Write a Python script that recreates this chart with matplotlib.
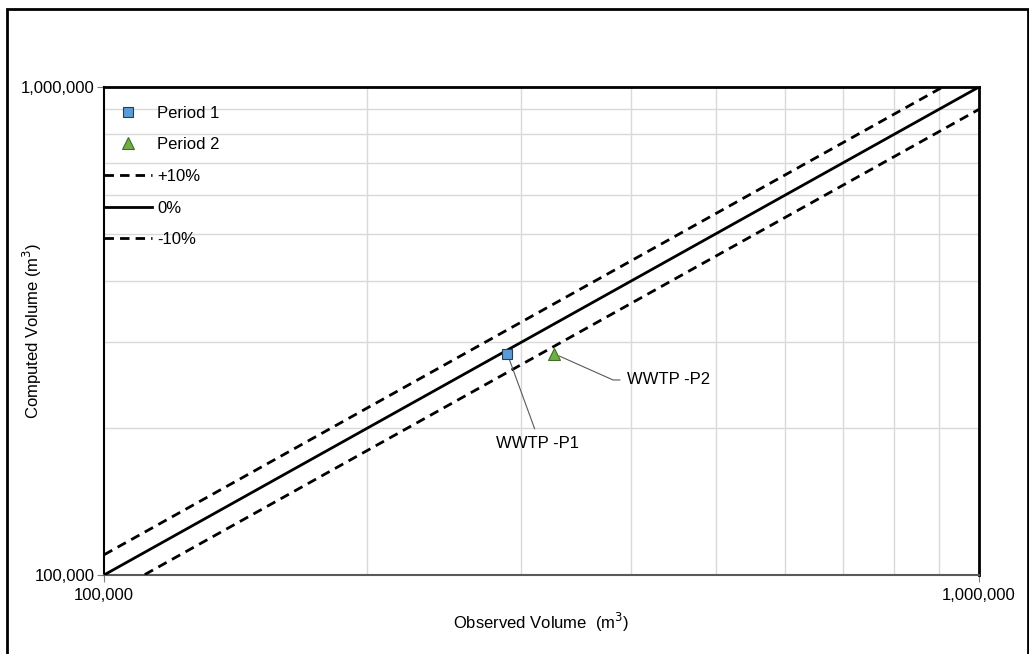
import matplotlib
matplotlib.use("Agg")
import matplotlib.pyplot as plt
import matplotlib.ticker as mticker
from matplotlib.patches import Rectangle
import numpy as np

plt.rcParams['font.family'] = ['Liberation Sans', 'DejaVu Sans']

# data
observed = [289000, 327000]
computed = [284000, 284000]
period_labels = ["Period 1", "Period 2"]
point_names = ["WWTP -P1", "WWTP -P2"]
ref_x = [100000, 1000000]
ref_factors = [1.1, 1.0, 0.9]
ref_labels = ["+10%", "0%", "-10%"]
ref_styles = ["--", "-", "--"]

FS = 12

fig = plt.figure(figsize=(10.29, 6.54), dpi=100)
ax = fig.add_axes([104 / 1029, 1 - 575 / 654, 875 / 1029, 488 / 654])

# outer chart border (bottom edge falls outside the picture)
fig.patches.append(Rectangle((7 / 1029, -6 / 654), 1021 / 1029, 651 / 654,
                             transform=fig.transFigure, fill=False,
                             edgecolor="black", linewidth=2))

ax.plot(observed[0], computed[0], ls="none", marker="s", ms=7,
        mfc="#5b9bd5", mec="#1f3f60", mew=0.8, label=period_labels[0], zorder=5)
ax.plot(observed[1], computed[1], ls="none", marker="^", ms=8,
        mfc="#70ad47", mec="#3f6e24", mew=0.8, label=period_labels[1], zorder=5)

xs = np.array(ref_x, dtype=float)
for f, lab, ls in zip(ref_factors, ref_labels, ref_styles):
    ax.plot(xs, xs * f, color="black", lw=2, ls=ls,
            dashes=(3.4, 2.2) if ls == "--" else (None, None), label=lab, zorder=3)

ax.set_xscale("log")
ax.set_yscale("log")
ax.set_xlim(1e5, 1e6)
ax.set_ylim(1e5, 1e6)

fmt = mticker.FuncFormatter(lambda v, p: f"{v:,.0f}")
for axis in (ax.xaxis, ax.yaxis):
    axis.set_major_locator(mticker.FixedLocator([1e5, 1e6]))
    axis.set_major_formatter(fmt)
    axis.set_minor_locator(mticker.LogLocator(base=10, subs=np.arange(2, 10)))
    axis.set_minor_formatter(mticker.NullFormatter())

ax.grid(which="minor", color="#d9d9d9", lw=1)
ax.tick_params(which="major", length=5, color="#808080", labelsize=FS)
ax.tick_params(axis="x", which="major", pad=4)
ax.tick_params(axis="y", which="major", pad=2)
ax.tick_params(which="minor", length=0)

for side in ("top", "right"):
    ax.spines[side].set_color("black")
    ax.spines[side].set_linewidth(2)
ax.spines["left"].set_color("black")
ax.spines["left"].set_linewidth(1.5)
ax.spines["bottom"].set_color("#595959")
ax.spines["bottom"].set_linewidth(1.5)

ax.set_xlabel("Observed Volume  (m$^3$)", fontsize=FS)
ax.set_ylabel("Computed Volume (m$^3$)", fontsize=FS)
ax.xaxis.set_label_coords(0.5, -(622 - 575) / 488)
ax.yaxis.set_label_coords(-(104 - 32) / 875, 0.5)
ax.xaxis.label.set_va("center")
ax.yaxis.label.set_va("center")

# point labels with leader lines
ax.annotate(point_names[0], xy=(observed[0], computed[0]), xytext=(312600, 186400),
            ha="center", va="center", fontsize=FS,
            arrowprops=dict(arrowstyle="-", color="#595959", lw=0.8,
                            relpos=(0.5, 1.0), shrinkA=3, shrinkB=4))
ax.annotate(point_names[1], xy=(observed[1], computed[1]), xytext=(396000, 251000),
            ha="left", va="center", fontsize=FS,
            arrowprops=dict(arrowstyle="-", color="#595959", lw=0.8,
                            relpos=(0, 0.5), shrinkA=3, shrinkB=4,
                            connectionstyle="angle,angleA=0,angleB=-24,rad=0"))

ax.legend(loc="upper left", bbox_to_anchor=(0, 0.962), frameon=False,
          fontsize=FS, handlelength=2.9, handletextpad=0.3,
          labelspacing=1.0, borderpad=0, borderaxespad=0, numpoints=1)

fig.savefig("out.png", dpi=100)
